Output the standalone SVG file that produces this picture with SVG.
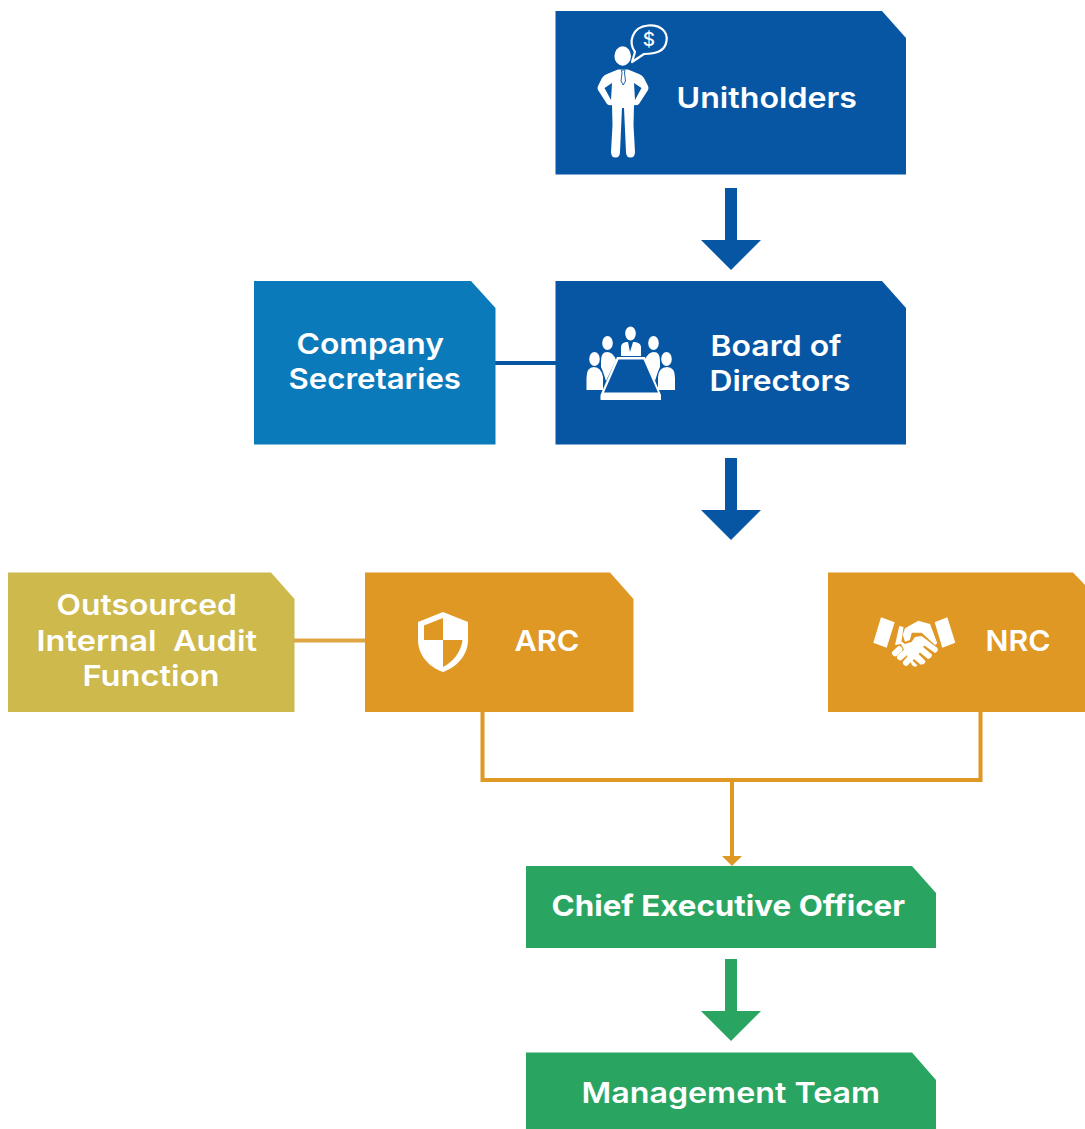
<svg xmlns="http://www.w3.org/2000/svg" width="1085" height="1129" viewBox="0 0 1085 1129">
<style>
text{font-family:Inter,"Open Sans","Liberation Sans",sans-serif;font-weight:600;fill:#fff;font-size:29px}
.b{font-weight:700}
.ic{fill:#fff}
.navy{fill:#0756a3}.sky{fill:#0b7aba}.or{fill:#e09825}.ol{fill:#cdb94c}.gr{fill:#29a561}
</style>
<g id="connectors">
<path d="M725 188h12v52h24l-30 30-30-30h24z" fill="#0756a3"/>
<path d="M725 458h12v52h24l-30 30-30-30h24z" fill="#0756a3"/>
<path d="M725 959h12v52h24l-30 30-30-30h24z" fill="#29a561"/>
<path d="M495 363H556" stroke="#0756a3" stroke-width="4" fill="none"/>
<path d="M294 640.500H366" stroke="#e0a544" stroke-width="4" fill="none"/>
<path d="M482.500 711V780H980.500V711M732 780V857" stroke="#e09825" stroke-width="4" fill="none"/>
<path d="M722 856h20l-10 10z" fill="#e09825"/>
</g>
<g id="unitholders">
<path class="navy" d="M555.500 11H882L906 38V174.500H555.500z"/>
<g class="ic">
<ellipse cx="622.700" cy="56" rx="8.300" ry="9.700"/>
<path d="M618 69.500 607 74Q604 75 602 78L598 86Q597 88 598 90L607 104Q609 106 612 105L612.500 125 611 152Q611 157.500 615.500 157.500 620 157.500 620 152L622 108H624L626 152Q626 157.500 630.500 157.500 635 157.500 635 152L633.500 125 634 105Q637 106 639 104L648 90Q649 88 648 86L644 78Q642 75 639 74L628 69.500z"/>
<path d="M634 83 641.500 88 635 100zM612 83 604.500 88 611 100z" fill="#0756a3"/>
<path d="M621.500 70H625L624.500 73 625.500 81 623.200 85 621 81 622 73z" stroke="#0756a3" stroke-width="0.900"/>
<path d="M632 62 635 52C628 42 632 27 648 25.500 661 24.500 668 32 666.500 41 665 52 655 53.500 644 54L632 62Z" fill="none" stroke="#fff" stroke-width="2.200" stroke-linejoin="round"/>
<text x="649" y="46" style="font-size:19px;font-weight:500" text-anchor="middle">$</text>
</g>
<text x="676.500" y="108" textLength="180.500" lengthAdjust="spacingAndGlyphs">Unitholders</text>
</g>
<g id="company-secretaries">
<path class="sky" d="M254 281H471L495.500 308V444.500H254z"/>
<text x="296.500" y="354" textLength="147.500" lengthAdjust="spacingAndGlyphs">Company</text>
<text x="288.500" y="389" textLength="172.500" lengthAdjust="spacingAndGlyphs">Secretaries</text>
</g>
<g id="board">
<path class="navy" d="M555.500 281H882L906 308V444.500H555.500z"/>
<g class="ic">
<ellipse cx="630.500" cy="333.500" rx="5.300" ry="7"/>
<path d="M621 356V347Q621 343 626 342L628 342 630 352 633 342 635 342Q641 343 641 347V356z"/>
<ellipse cx="607.500" cy="343" rx="5.300" ry="7"/>
<ellipse cx="653.500" cy="343" rx="5.300" ry="7"/>
<ellipse cx="594.500" cy="359" rx="5.300" ry="7"/>
<ellipse cx="666.500" cy="359" rx="5.300" ry="7"/>
<path d="M601 367V361Q601 352 607 352 613 352 616 360L606 381Q603 371 601 367z"/>
<path d="M660 367V361Q660 352 654 352 648 352 645 360L655 381Q658 371 660 367z"/>
<path d="M586.500 390V378Q586.500 367 594 367 601 367 603 377V390z"/>
<path d="M675 390V378Q675 367 667 367 659 367 658 377V390z"/>
<path fill-rule="evenodd" d="M617 357H645L661 395V400H600.500V395zM618.500 359.500 604 392.500H658L643.500 359.500z"/>
</g>
<text x="710.500" y="356" textLength="131" lengthAdjust="spacingAndGlyphs">Board of</text>
<text x="709.500" y="391" textLength="141" lengthAdjust="spacingAndGlyphs">Directors</text>
</g>
<g id="outsourced">
<path class="ol" d="M8 572.500H271L294.500 599V712H8z"/>
<text x="56.500" y="615" textLength="180.500" lengthAdjust="spacingAndGlyphs">Outsourced</text>
<text x="36.500" y="651" textLength="220.500" lengthAdjust="spacingAndGlyphs" xml:space="preserve">Internal  Audit</text>
<text x="82.500" y="686" textLength="137" lengthAdjust="spacingAndGlyphs">Function</text>
</g>
<g id="arc">
<path class="or" d="M365 572.500H610L633.500 599V712H365z"/>
<path class="ic" fill-rule="evenodd" d="M443 612 468 622V640C468 655 457 667 443 672 429 667 418 655 418 640V622zM443 618 424 625.500V640H443zM443 640V667C453 662 461 652 462.500 640z"/>
<text x="514.500" y="651" textLength="65" lengthAdjust="spacingAndGlyphs">ARC</text>
</g>
<g id="nrc">
<path class="or" d="M828 572.500H1073L1085 585V712H828z"/>
<g class="ic">
<path d="M881 617.300 894.700 622.300 886.700 647.700 873.300 642.700z"/>
<path d="M934.700 622.300 947.300 617.300 955.300 642.700 942.300 647.700z"/>
<path d="M905 628.300 918.300 620.700 930 624 937.300 643.300 935 645 921.700 632.700H911.700L910 640 905 641.700 902.700 635z"/>
<path d="M899.300 626 903.500 627 901.500 641.500 905 644 911.500 642 915 637 921.500 636 937.500 648Q939 651 935 653L924.500 645.500 923 647 932 654.500Q932 658 928 659L920 652.500 918.500 654 925.500 661Q925 665 920.500 664.500L914 659 912.500 660.500 917.500 665.500Q915 668 912 665L901 644 895 645z"/>
<path d="M895 653.300 899.300 649.300M900 657.300 905 652.700M906 662.700 910.700 657.300" stroke="#fff" stroke-width="6" stroke-linecap="round" fill="none"/>
</g>
<text x="985.500" y="651" textLength="65" lengthAdjust="spacingAndGlyphs">NRC</text>
</g>
<g id="ceo">
<path class="gr" d="M526 866H912L936 893V948H526z"/>
<text class="b" x="551.500" y="916" textLength="353.500" lengthAdjust="spacingAndGlyphs">Chief Executive Officer</text>
</g>
<g id="management">
<path class="gr" d="M526 1052.500H912L936 1080V1129H526z"/>
<text x="581.500" y="1103" textLength="298.500" lengthAdjust="spacingAndGlyphs">Management Team</text>
</g>
</svg>
